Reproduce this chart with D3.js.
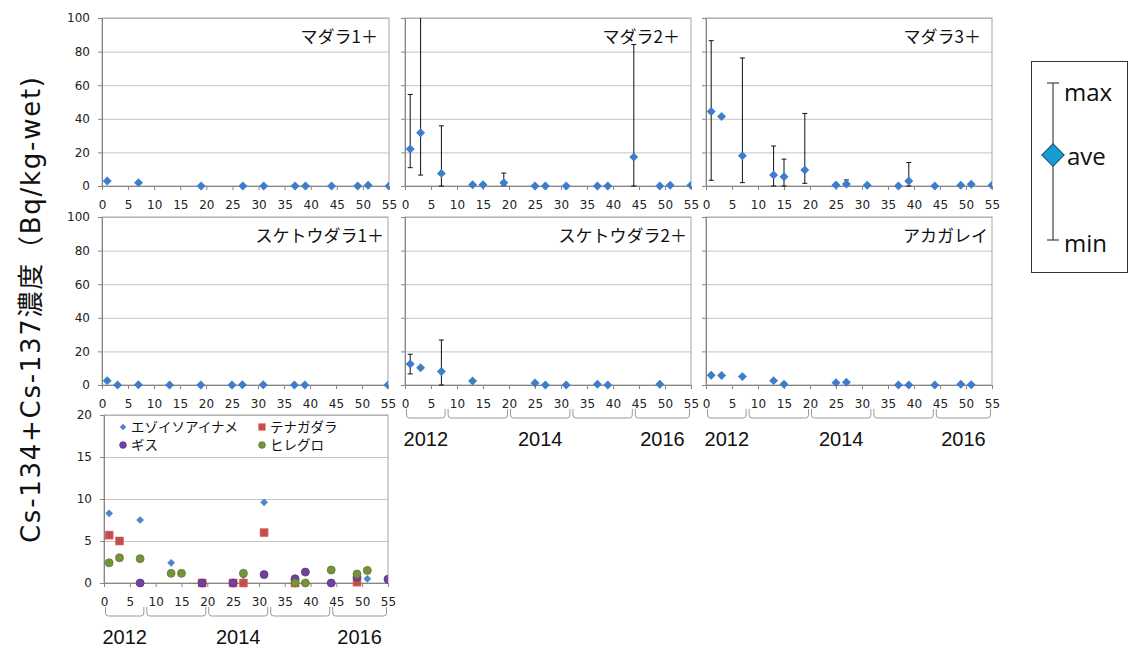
<!DOCTYPE html>
<html>
<head>
<meta charset="utf-8">
<script src="https://cdn.jsdelivr.net/npm/d3@7"></script>
<style>
  body { margin: 0; background: #fff; }
  svg { display: block; }
  .tick text { font-family: "DejaVu Sans", Verdana, sans-serif; font-size: 12px; fill: #222; }
</style>
</head>
<body>
<div id="chart"></div>
<script>
// x: 月数 (2011年4月起点), ave/max/min: Bq/kg-wet
var madara1X = [1, 7, 19, 27, 31, 37, 39, 44, 49, 51, 55];
var madara1Ave = [3, 2, 0, 0, 0, 0, 0, 0, 0, 0.4, 0];

var madara2X = [1, 3, 7, 13, 15, 19, 25, 27, 31, 37, 39, 44, 49, 51, 55];
var madara2Ave = [22, 31.7, 7.5, 0.8, 0.8, 2, 0, 0, 0, 0, 0, 17.2, 0, 0.4, 0.4];
var madara2Max = [54.5, 120, 35.8, null, null, 7.7, null, null, null, null, null, 84.2, null, null, null];
var madara2Min = [10.9, 6.5, 0, null, null, 0.4, null, null, null, null, null, 0, null, null, null];

var madara3X = [1, 3, 7, 13, 15, 19, 25, 27, 31, 37, 39, 44, 49, 51, 55];
var madara3Ave = [44.4, 41.4, 18, 6.5, 5.5, 9.5, 0.6, 1.2, 0.4, 0, 3, 0, 0.4, 1, 0.4];
var madara3Max = [86.5, null, 76.2, 23.8, 16, 43.2, null, 3.6, null, null, 14, null, null, null, null];
var madara3Min = [3.4, null, 2, 0, 0, 1.6, null, 0.3, null, null, 0, null, null, null, null];

var sketo1X = [1, 3, 7, 13, 19, 25, 27, 31, 37, 39, 55];
var sketo1Ave = [2.6, 0, 0.2, 0, 0, 0, 0.2, 0.2, 0, 0, 0];

var sketo2X = [1, 3, 7, 13, 25, 27, 31, 37, 39, 49];
var sketo2Ave = [12.5, 10.3, 8, 2.4, 1.2, 0, 0, 0.4, 0, 0.4];
var sketo2Max = [18.3, null, 26.8, null, null, null, null, null, null, null];
var sketo2Min = [6.6, null, 0, null, null, null, null, null, null, null];

var akaX = [1, 3, 7, 13, 15, 25, 27, 37, 39, 44, 49, 51];
var akaAve = [5.8, 5.6, 5, 2.6, 0.4, 1.4, 1.6, 0, 0, 0, 0.4, 0.2];

// 下段 (その他の魚種)
var ezoX = [1, 7, 13, 27, 31, 51, 55];
var ezoAve = [8.3, 7.5, 2.4, 0.9, 9.6, 0.5, 0.4];
var tenagaX = [1, 3, 19, 25, 27, 31, 37, 49];
var tenagaAve = [5.7, 5, 0, 0, 0, 6, 0, 0.1];
var gisuX = [7, 19, 25, 31, 37, 39, 44, 49, 55];
var gisuAve = [0, 0, 0, 1, 0.5, 1.3, 0, 0.7, 0.45];
var hireX = [1, 3, 7, 13, 15, 27, 37, 39, 44, 49, 51];
var hireAve = [2.4, 3, 2.9, 1.15, 1.15, 1.15, 0, 0, 1.55, 1.07, 1.5];

var xTicks = [0, 5, 10, 15, 20, 25, 30, 35, 40, 45, 50, 55];
var yTicksTop = [0, 20, 40, 60, 80, 100];
var yTicksBottom = [0, 5, 10, 15, 20];
var yearBounds = [0, 8, 20, 32, 44, 55];
var yearLabels = ["2012", "", "2014", "", "2016"];

var W = 1131, H = 650;
var svg = d3.select("#chart").append("svg")
  .attr("width", W).attr("height", H);
svg.append("rect").attr("width", W).attr("height", H).attr("fill", "#fff");

var blueTop = "#3d7dca";

function zip(xs, ave, mx, mn) {
  return xs.map(function(x, i) {
    return { x: x, ave: ave[i], max: mx ? mx[i] : null, min: mn ? mn[i] : null };
  });
}

function marker(g, shape, color, size) {
  if (shape == "diamond") {
    g.append("path")
      .attr("d", d3.symbol().type(d3.symbolSquare).size(size)())
      .attr("transform", "rotate(45)")
      .attr("fill", color);
  } else if (shape == "square") {
    g.append("path")
      .attr("d", d3.symbol().type(d3.symbolSquare).size(size)())
      .attr("fill", color)
      .attr("stroke", d3.color(color).brighter(0.6)).attr("stroke-width", 0.6);
  } else {
    g.append("circle").attr("r", Math.sqrt(size / Math.PI))
      .attr("fill", color)
      .attr("stroke", d3.color(color).darker(0.6)).attr("stroke-width", 0.8);
  }
}

var panelCount = 0;
function panel(cfg) {
  panelCount++;
  var x = d3.scaleLinear().domain([0, 55]).range([cfg.x0, cfg.x0 + cfg.w]);
  var y = d3.scaleLinear().domain([0, cfg.yMax]).range([cfg.y0 + cfg.h, cfg.y0]);
  var g = svg.append("g");

  // 目盛線
  g.append("g")
    .attr("transform", "translate(" + cfg.x0 + ",0)")
    .call(d3.axisLeft(y).tickValues(cfg.yTicks).tickSize(-cfg.w).tickFormat(""))
    .call(function(s) { s.select(".domain").remove(); })
    .selectAll("line").attr("stroke", "#c4c4c4");

  g.append("rect")
    .attr("x", cfg.x0).attr("y", cfg.y0).attr("width", cfg.w).attr("height", cfg.h)
    .attr("fill", "none").attr("stroke", "#a6a6a6");

  // Y軸
  var ya = g.append("g")
    .attr("transform", "translate(" + cfg.x0 + ",0)")
    .call(d3.axisLeft(y).tickValues(cfg.yTicks).tickSize(4).tickPadding(8)
      .tickFormat(cfg.yLabels ? d3.format("d") : ""));
  ya.select(".domain").attr("stroke", "#868686");
  ya.selectAll(".tick line").attr("stroke", "#868686");

  // X軸
  var xa = g.append("g")
    .attr("transform", "translate(0," + (cfg.y0 + cfg.h) + ")")
    .call(d3.axisBottom(x).tickValues(xTicks).tickSize(4).tickPadding(10));
  xa.select(".domain").attr("stroke", "#868686");
  xa.selectAll(".tick line").attr("stroke", "#868686");

  // 年の括弧
  if (cfg.years) {
    var by0 = cfg.y0 + cfg.h + 24, by1 = cfg.y0 + cfg.h + 33;
    for (var i = 0; i < yearBounds.length - 1; i++) {
      var a = x(yearBounds[i]) + 1.5, b = x(yearBounds[i + 1]) - 1.5;
      var p = d3.path();
      p.moveTo(a, by0);
      p.lineTo(a, by1 - 3);
      p.quadraticCurveTo(a, by1, a + 3, by1);
      p.lineTo(b - 3, by1);
      p.quadraticCurveTo(b, by1, b, by1 - 3);
      p.lineTo(b, by0);
      g.append("path").attr("d", p.toString())
        .attr("fill", "none").attr("stroke", "#9a9a9a").attr("stroke-width", 1);
      if (yearLabels[i]) {
        g.append("text")
          .attr("x", x((yearBounds[i] + yearBounds[i + 1]) / 2))
          .attr("y", cfg.y0 + cfg.h + 61)
          .attr("text-anchor", "middle")
          .attr("font-family", "Liberation Sans, Arial, sans-serif")
          .attr("font-size", 20).attr("fill", "#111")
          .text(yearLabels[i]);
      }
    }
  }

  // クリップ
  var cid = "clip" + panelCount;
  svg.append("clipPath").attr("id", cid).append("rect")
    .attr("x", cfg.x0).attr("y", cfg.y0).attr("width", cfg.w).attr("height", cfg.h + 6);
  var plot = g.append("g").attr("clip-path", "url(#" + cid + ")");

  cfg.series.forEach(function(s) {
    var d = s.data;
    // エラーバー
    var eb = plot.selectAll(null).data(d.filter(function(p) { return p.max != null; }))
      .enter().append("g");
    eb.append("line")
      .attr("x1", function(p) { return x(p.x); }).attr("x2", function(p) { return x(p.x); })
      .attr("y1", function(p) { return y(p.max); }).attr("y2", function(p) { return y(p.min); })
      .attr("stroke", "#111").attr("stroke-width", 1);
    eb.append("line")
      .attr("x1", function(p) { return x(p.x) - 2.5; }).attr("x2", function(p) { return x(p.x) + 2.5; })
      .attr("y1", function(p) { return y(p.max); }).attr("y2", function(p) { return y(p.max); })
      .attr("stroke", "#111");
    eb.append("line")
      .attr("x1", function(p) { return x(p.x) - 2.5; }).attr("x2", function(p) { return x(p.x) + 2.5; })
      .attr("y1", function(p) { return y(p.min); }).attr("y2", function(p) { return y(p.min); })
      .attr("stroke", "#111");

    plot.selectAll(null).data(d).enter().append("g")
      .attr("transform", function(p) { return "translate(" + x(p.x) + "," + y(p.ave) + ")"; })
      .each(function() { marker(d3.select(this), s.shape, s.color, s.size); });
  });

  if (cfg.title) {
    g.append("text")
      .attr("x", cfg.x0 + cfg.w - cfg.titleOff).attr("y", cfg.y0 + 25)
      .attr("text-anchor", "end")
      .attr("font-family", "Noto Sans CJK JP, sans-serif")
      .attr("font-size", 17).attr("fill", "#111")
      .text(cfg.title);
  }

  if (cfg.legend) {
    var lg = g.append("g").attr("transform", "translate(" + cfg.x0 + "," + cfg.y0 + ")");
    cfg.series.forEach(function(s, i) {
      var lx = 19 + (i % 2) * 139, ly = 12 + Math.floor(i / 2) * 18;
      var m = lg.append("g").attr("transform", "translate(" + lx + "," + ly + ")");
      marker(m, s.shape, s.color, s.size * 0.7);
      lg.append("text").attr("x", lx + 8).attr("y", ly + 5)
        .attr("font-family", "Noto Sans CJK JP, sans-serif")
        .attr("font-size", 13.5).attr("fill", "#111")
        .text(s.name);
    });
  }
}

var colX = [102, 405, 706], colW = 287;
var rowY = [18, 217], rowH = 168;

panel({ x0: colX[0], y0: rowY[0], w: colW, h: rowH, yMax: 100, yTicks: yTicksTop, yLabels: true,
  title: "マダラ1＋", titleOff: 11,
  series: [{ data: zip(madara1X, madara1Ave), shape: "diamond", color: blueTop, size: 40 }] });
panel({ x0: colX[1], y0: rowY[0], w: colW - 1, h: rowH, yMax: 100, yTicks: yTicksTop, yLabels: false,
  title: "マダラ2＋", titleOff: 11,
  series: [{ data: zip(madara2X, madara2Ave, madara2Max, madara2Min), shape: "diamond", color: blueTop, size: 40 }] });
panel({ x0: colX[2], y0: rowY[0], w: colW - 1, h: rowH, yMax: 100, yTicks: yTicksTop, yLabels: false,
  title: "マダラ3＋", titleOff: 11,
  series: [{ data: zip(madara3X, madara3Ave, madara3Max, madara3Min), shape: "diamond", color: blueTop, size: 40 }] });

panel({ x0: colX[0], y0: rowY[1], w: colW - 1, h: rowH, yMax: 100, yTicks: yTicksTop, yLabels: true,
  title: "スケトウダラ1＋", titleOff: 4,
  series: [{ data: zip(sketo1X, sketo1Ave), shape: "diamond", color: blueTop, size: 40 }] });
panel({ x0: colX[1], y0: rowY[1], w: colW - 1, h: rowH, yMax: 100, yTicks: yTicksTop, yLabels: false,
  title: "スケトウダラ2＋", titleOff: 4, years: true,
  series: [{ data: zip(sketo2X, sketo2Ave, sketo2Max, sketo2Min), shape: "diamond", color: blueTop, size: 40 }] });
panel({ x0: colX[2], y0: rowY[1], w: colW - 1, h: rowH, yMax: 100, yTicks: yTicksTop, yLabels: false,
  title: "アカガレイ", titleOff: 4, years: true,
  series: [{ data: zip(akaX, akaAve), shape: "diamond", color: blueTop, size: 40 }] });

panel({ x0: 104, y0: 415, w: 284, h: 168, yMax: 20, yTicks: yTicksBottom, yLabels: true,
  years: true, legend: true,
  series: [
    { name: "エゾイソアイナメ", data: zip(ezoX, ezoAve), shape: "diamond", color: "#4f86c6", size: 30 },
    { name: "テナガダラ", data: zip(tenagaX, tenagaAve), shape: "square", color: "#c0504d", size: 64 },
    { name: "ギス", data: zip(gisuX, gisuAve), shape: "circle", color: "#7041a0", size: 50 },
    { name: "ヒレグロ", data: zip(hireX, hireAve), shape: "circle", color: "#76933c", size: 50 }
  ] });

// Y軸タイトル
svg.append("text")
  .attr("transform", "translate(40,310) rotate(-90)")
  .attr("text-anchor", "middle")
  .attr("font-family", "DejaVu Sans, Noto Sans CJK JP, sans-serif")
  .attr("font-size", 26).attr("fill", "#111")
  .attr("textLength", 466).attr("lengthAdjust", "spacing")
  .text("Cs-134+Cs-137濃度（Bq/kg-wet)");

// 凡例 (max/ave/min)
var lg = svg.append("g");
lg.append("rect").attr("x", 1031.5).attr("y", 61.5).attr("width", 96).attr("height", 211)
  .attr("fill", "#fff").attr("stroke", "#333").attr("stroke-width", 1);
lg.append("line").attr("x1", 1053).attr("x2", 1053).attr("y1", 83).attr("y2", 240)
  .attr("stroke", "#444").attr("stroke-width", 1.2);
[83, 240].forEach(function(yy) {
  lg.append("line").attr("x1", 1047).attr("x2", 1059).attr("y1", yy).attr("y2", yy)
    .attr("stroke", "#444").attr("stroke-width", 1.2);
});
lg.append("path")
  .attr("d", d3.symbol().type(d3.symbolSquare).size(250)())
  .attr("transform", "translate(1053,155) rotate(45)")
  .attr("fill", "#169dd6").attr("stroke", "#1b4d66").attr("stroke-width", 1);
[["max", 92], ["ave", 156], ["min", 243]].forEach(function(t) {
  lg.append("text").attr("x", t[0] == "ave" ? 1067 : 1064).attr("y", t[1] + 9)
    .attr("font-family", "Open Sans, sans-serif").attr("font-size", 24).attr("fill", "#111")
    .text(t[0]);
});
</script>
</body>
</html>
